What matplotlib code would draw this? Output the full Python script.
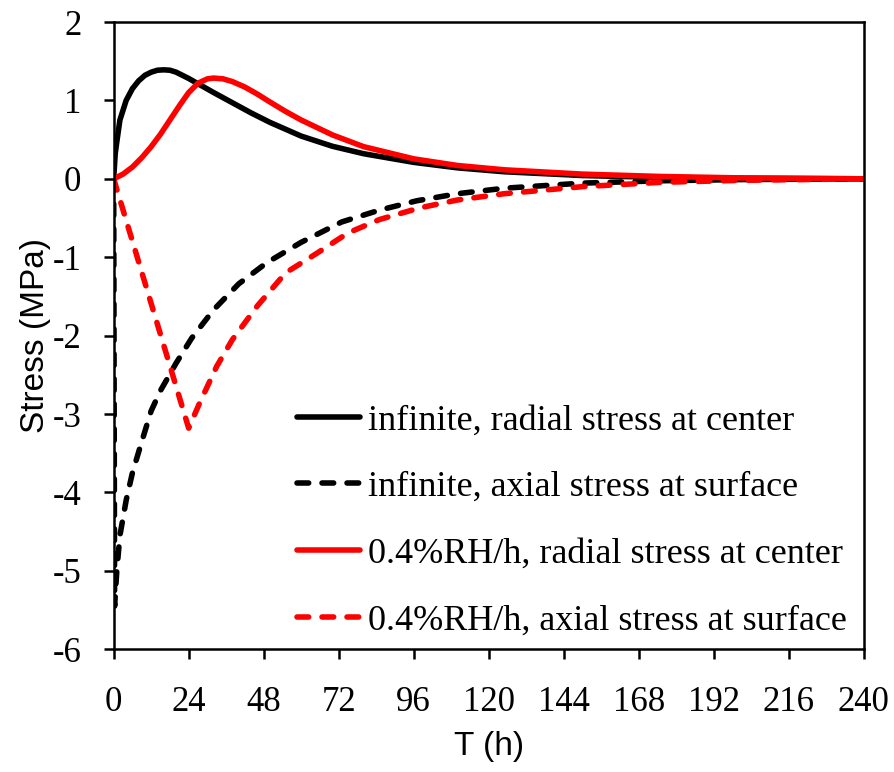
import matplotlib
matplotlib.use("Agg")
import matplotlib.pyplot as plt

# ---- data ----
x_inf_radial = [0, 0.5, 1, 2, 4, 6, 8, 10, 12, 14, 16, 18, 20, 24, 28, 32, 38, 44, 50, 60, 70, 80, 96, 110, 125, 150, 175, 200, 240]
y_inf_radial = [0, 0.32, 0.47, 0.75, 1.0, 1.15, 1.25, 1.32, 1.36, 1.385, 1.39, 1.385, 1.36, 1.28, 1.19, 1.1, 0.97, 0.84, 0.72, 0.545, 0.415, 0.32, 0.21, 0.14, 0.09, 0.042, 0.018, 0.007, 0.0]

x_inf_axial = [0, 0.3, 1, 2, 4, 6, 9, 12, 15, 20, 25, 32, 40, 49, 60, 73, 85, 97, 110, 125, 150, 175, 200, 240]
y_inf_axial = [0, -5.45, -5.0, -4.55, -4.1, -3.75, -3.35, -2.96, -2.7, -2.35, -2.03, -1.67, -1.34, -1.07, -0.81, -0.55, -0.4, -0.28, -0.19, -0.12, -0.055, -0.025, -0.01, 0.0]

x_rh_radial = [0, 3, 6, 9, 12, 15, 18, 21, 24, 27, 30, 32, 35, 38, 42, 46, 50, 55, 60, 70, 80, 96, 110, 125, 150, 175, 200, 240]
y_rh_radial = [0, 0.06, 0.15, 0.27, 0.41, 0.57, 0.75, 0.93, 1.1, 1.22, 1.275, 1.285, 1.275, 1.24, 1.17, 1.08, 0.98, 0.86, 0.75, 0.56, 0.41, 0.255, 0.17, 0.115, 0.06, 0.03, 0.012, 0.0]

x_rh_axial = [0, 24, 27.5, 33, 38, 46, 55, 65, 75, 85, 98, 110, 125, 150, 175, 200, 240]
y_rh_axial = [0, -3.18, -2.86, -2.39, -2.05, -1.62, -1.2, -0.95, -0.69, -0.52, -0.37, -0.27, -0.19, -0.1, -0.045, -0.02, 0.0]

labels = ["infinite, radial stress at center",
          "infinite, axial stress at surface",
          "0.4%RH/h, radial stress at center",
          "0.4%RH/h, axial stress at surface"]
x_ticks = [0, 24, 48, 72, 96, 120, 144, 168, 192, 216, 240]
y_ticks = [-6, -5, -4, -3, -2, -1, 0, 1, 2]

# ---- plot ----
fig = plt.figure(figsize=(8.95, 7.72), dpi=100)
ax = fig.add_axes([0.127, 0.159, 0.838, 0.8125])

lw = 4.0
dash = (2.1, 2.4)
ax.plot(x_inf_radial, y_inf_radial, color="black", lw=lw, solid_capstyle="round", label=labels[0])
ax.plot(x_inf_axial, y_inf_axial, color="black", lw=lw, linestyle=(0, dash), dash_capstyle="round", label=labels[1])
ax.plot(x_rh_radial, y_rh_radial, color="#ff0000", lw=lw, solid_capstyle="round", label=labels[2])
ax.plot(x_rh_axial, y_rh_axial, color="#ff0000", lw=lw, linestyle=(0, dash), dash_capstyle="round", label=labels[3])

ax.set_xlim(0, 240)
ax.set_ylim(-6, 2)
ax.set_xticks(x_ticks)
ax.set_yticks(y_ticks)

tick_font = {"family": "Liberation Serif", "size": 25}
ax.set_xticklabels([str(v) for v in x_ticks], fontdict=tick_font)
ax.set_yticklabels([str(v) for v in y_ticks], fontdict=tick_font)
ax.tick_params(axis="both", direction="out", length=7.2, width=1.8)
ax.tick_params(axis="x", pad=19)
ax.tick_params(axis="y", pad=16)
for s in ax.spines.values():
    s.set_linewidth(1.8)

ax.set_xlabel("T (h)", fontfamily="Liberation Sans", fontsize=24, labelpad=9)
ax.set_ylabel("Stress (MPa)", fontfamily="Liberation Sans", fontsize=24, labelpad=1)

leg = ax.legend(loc="upper left", bbox_to_anchor=(0.244, 0.391), frameon=False,
                prop={"family": "Liberation Serif", "size": 26},
                handlelength=1.75, handletextpad=0.22, labelspacing=0.93,
                borderpad=0, borderaxespad=0)

fig.savefig("out.png", dpi=100)
